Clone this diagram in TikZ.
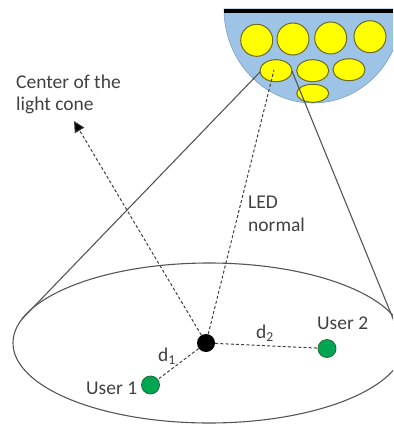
\documentclass[tikz,border=0pt]{standalone}
\usepackage{fontspec}
\setmainfont{Carlito}
\usetikzlibrary{arrows.meta,shapes.geometric}
\definecolor{lampblue}{HTML}{9DC3E6}
\definecolor{lampedge}{HTML}{7F9FBF}
\definecolor{ledfill}{HTML}{FFFF00}
\definecolor{ledline}{HTML}{6B6B1E}
\definecolor{userfill}{HTML}{00A651}
\definecolor{userline}{HTML}{1F6B3A}
\definecolor{inkgrey}{HTML}{404040}
\definecolor{conegrey}{HTML}{555555}
\tikzset{
  ledc/.style={circle,draw=ledline,fill=ledfill,line width=1pt,minimum size=32pt,inner sep=0pt},
  lede/.style={ellipse,draw=ledline,fill=ledfill,line width=1pt,minimum width=32pt,minimum height=22pt,inner sep=0pt},
  usr/.style={circle,draw=userline,fill=userfill,line width=0.8pt,minimum size=18pt,inner sep=0pt},
  lab/.style={text=inkgrey,font=\fontsize{19.5}{23}\selectfont,inner sep=0pt,align=left},
  conel/.style={draw=conegrey,line width=1.1pt},
  dsh/.style={draw=inkgrey,line width=1pt,dash pattern=on 3pt off 2.2pt},
}
\begin{document}
\begin{tikzpicture}[x=1pt,y=-1pt]
\useasboundingbox (0,0) rectangle (393,425);
\begin{scope}
\clip (0,0) rectangle (393,425);
\path[fill=lampblue,draw=lampedge,line width=0.6pt] (224,9) -- (402,9) arc[start angle=0,end angle=180,x radius=89,y radius=94] -- cycle;
\fill[black] (224,9) rectangle (393,13);
\node[ledc] (a1) at (256.7,40.3) {};
\node[ledc] (a2) at (293,39) {};
\node[ledc] (a3) at (330.7,38) {};
\node[ledc] (a4) at (370,36.7) {};
\node[lede] (b1) at (276,70.7) {};
\node[lede] (b2) at (312.7,70.7) {};
\node[lede] (b3) at (349,69.7) {};
\node[lede,minimum height=18pt] (b4) at (312.7,93.3) {};
\node[ellipse,draw=conegrey,line width=1.1pt,minimum width=392pt,minimum height=160pt,inner sep=0pt] (floor) at (209,343) {};
\coordinate (coneL) at (22,319);
\coordinate (coneR) at (394,321);
\coordinate (ledL) at (260,72);
\coordinate (ledR) at (292,71);
\coordinate (ledN) at (274,70);
\coordinate (tip) at (74,121);
\draw[conel] (ledL) -- (coneL);
\draw[conel] (ledR) -- (coneR);
\node[circle,fill=black,minimum size=18pt,inner sep=0pt] (dot) at (206,343) {};
\node[usr] (u1) at (150.5,385) {};
\node[usr] (u2) at (327,348.5) {};
\draw[dsh] (dot) -- (ledN);
\draw[dsh,-{Triangle[length=11pt,width=11pt,fill=black]}] (dot) -- (tip);
\draw[dsh] (dot) -- (u1);
\draw[dsh] (dot) -- (u2);
\end{scope}
\node[lab,anchor=west] (t1) at (16,81.5) {Center of the};
\node[lab,anchor=west] (t2) at (16,105) {light cone};
\node[lab,anchor=west] (t3) at (248,202) {LED};
\node[lab,anchor=west] (t4) at (248,225) {normal};
\node[lab,anchor=west] (t5) at (86,388.5) {User 1};
\node[lab,anchor=west] (t6) at (317,323) {User 2};
\node[lab,anchor=west] (t7) at (158,356) {d\textsubscript{1}};
\node[lab,anchor=west] (t8) at (256,333) {d\textsubscript{2}};
\end{tikzpicture}
\end{document}
